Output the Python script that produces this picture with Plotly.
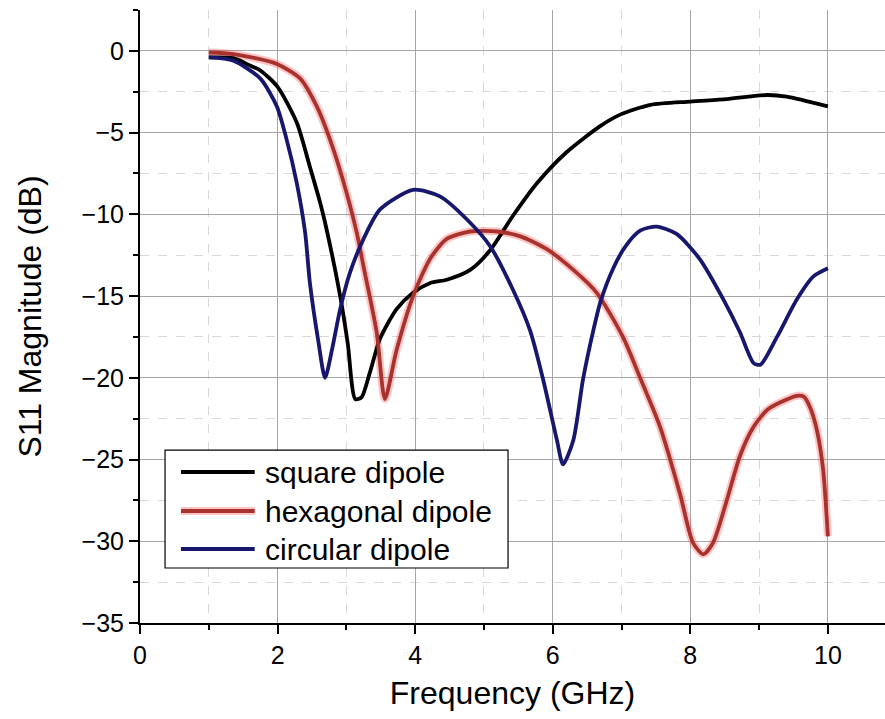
import plotly.graph_objects as go

# ---- data ----
sq_x = [1.0, 1.36, 1.6, 1.75, 2.0, 2.28, 2.47, 2.62, 2.69, 2.91, 3.02, 3.13, 3.22, 3.34, 3.49, 3.73,
        3.97, 4.22, 4.46, 4.8, 5.09, 5.42, 5.77, 6.2, 6.69, 6.98, 7.42, 8.0, 8.53, 9.12, 9.4, 10.0]
sq_y = [-0.4, -0.45, -0.9, -1.2, -2.2, -4.4, -7.1, -9.3, -10.5, -15.0, -17.9, -21.3, -21.2, -19.7, -17.6, -15.8,
        -14.8, -14.2, -14.0, -13.4, -12.2, -10.1, -8.1, -6.2, -4.6, -3.9, -3.3, -3.1, -2.95, -2.7, -2.8, -3.4]

hx_x = [1.0, 1.36, 1.99, 2.33, 2.57, 2.76, 2.95, 3.15, 3.25, 3.44, 3.56, 3.73, 3.97, 4.22, 4.46, 4.8,
        5.19, 5.53, 5.92, 6.3, 6.64, 7.02, 7.27, 7.56, 7.85, 8.04, 8.19, 8.33, 8.53, 8.72, 8.92, 9.12,
        9.31, 9.55, 9.65, 9.74, 9.84, 9.93, 10.0]
hx_y = [-0.1, -0.2, -0.8, -1.7, -3.4, -5.4, -7.9, -11.1, -13.2, -17.2, -21.3, -18.3, -15.0, -12.7, -11.5, -11.05,
        -11.05, -11.35, -12.15, -13.4, -14.8, -17.5, -20.0, -23.0, -27.1, -30.1, -30.8, -30.1, -27.5, -24.8, -23.0, -21.95,
        -21.5, -21.1, -21.15, -21.8, -23.2, -25.6, -29.7]

ci_x = [1.0, 1.36, 1.75, 1.99, 2.13, 2.28, 2.4, 2.47, 2.59, 2.69, 2.79, 2.91, 3.05, 3.25, 3.49, 3.97,
        4.36, 4.75, 5.09, 5.42, 5.67, 5.86, 6.06, 6.15, 6.3, 6.44, 6.59, 6.69, 6.88, 7.05, 7.27, 7.51,
        7.8, 8.14, 8.48, 8.72, 8.92, 9.02, 9.26, 9.55, 9.79, 10.0]
ci_y = [-0.4, -0.6, -1.7, -3.4, -5.4, -8.1, -11.1, -14.2, -17.7, -20.0, -18.3, -15.8, -13.6, -11.5, -9.7, -8.5,
        -8.9, -10.3, -11.95, -14.6, -17.1, -20.1, -23.8, -25.3, -23.8, -20.1, -17.1, -15.4, -13.3, -12.0, -11.0, -10.75,
        -11.2, -12.75, -15.2, -17.2, -19.1, -19.2, -17.5, -15.2, -13.8, -13.3]

names = ["square dipole", "hexagonal dipole", "circular dipole"]
colors = ["#000000", "#a8322d", "#17176e"]

x_ticks = [0, 2, 4, 6, 8, 10]
y_ticks = [0, -5, -10, -15, -20, -25, -30, -35]

FONT = "Arial, Liberation Sans, sans-serif"
GLOW = "rgba(255,90,90,0.35)"
SMOOTH = 0.7

fig = go.Figure()
# glow under the red curve
fig.add_trace(go.Scatter(x=hx_x, y=hx_y, mode="lines", showlegend=False, hoverinfo="skip",
                         line=dict(color=GLOW, width=8, shape="spline", smoothing=SMOOTH)))
for xs, ys, nm, c in zip([sq_x, hx_x, ci_x], [sq_y, hx_y, ci_y], names, colors):
    fig.add_trace(go.Scatter(x=xs, y=ys, mode="lines", name=nm, showlegend=False,
                             line=dict(color=c, width=3.8, shape="spline", smoothing=SMOOTH)))

# manual legend
bx0, bx1, by0, by1 = 0.0336, 0.494, 0.0897, 0.282
fig.add_shape(type="rect", xref="paper", yref="paper", x0=bx0, x1=bx1, y0=by0, y1=by1,
              line=dict(color="black", width=1.2), fillcolor="white", layer="above")
rows = [0.2463, 0.1827, 0.1207]
for nm, c, ry in zip(names, colors, rows):
    if c == colors[1]:
        fig.add_shape(type="line", xref="paper", yref="paper", x0=0.055, x1=0.154, y0=ry, y1=ry,
                      line=dict(color=GLOW, width=8), layer="above")
    fig.add_shape(type="line", xref="paper", yref="paper", x0=0.055, x1=0.154, y0=ry, y1=ry,
                  line=dict(color=c, width=4), layer="above")
    fig.add_annotation(xref="paper", yref="paper", x=0.165, y=ry, text=nm, showarrow=False,
                       xanchor="left", yanchor="middle", font=dict(family=FONT, size=30, color="black"))

axis_common = dict(
    showline=True, linecolor="black", linewidth=2, mirror=False,
    ticks="outside", ticklen=9, tickwidth=2, tickcolor="black",
    showgrid=True, gridcolor="#a6a6a6", gridwidth=1, zeroline=False,
    tickfont=dict(family=FONT, size=25, color="black"),
)
fig.update_xaxes(range=[0, 10.83], tickvals=x_ticks,
                 minor=dict(dtick=1, tick0=0, ticks="outside", ticklen=5, tickwidth=2, tickcolor="black",
                            showgrid=True, gridcolor="#d8d8d8", griddash="dash", gridwidth=1),
                 title=dict(text="Frequency (GHz)", font=dict(family=FONT, size=32, color="black"), standoff=14),
                 **axis_common)
fig.update_yaxes(range=[-35, 2.5], tickvals=y_ticks,
                 minor=dict(dtick=2.5, tick0=0, ticks="outside", ticklen=5, tickwidth=2, tickcolor="black",
                            showgrid=True, gridcolor="#d8d8d8", griddash="dash", gridwidth=1),
                 title=dict(text="S11 Magnitude (dB)", font=dict(family=FONT, size=32, color="black"), standoff=30),
                 **axis_common)

fig.update_layout(width=885, height=719, margin=dict(l=140, r=0, t=10, b=96),
                  plot_bgcolor="white", paper_bgcolor="white", showlegend=False)

fig.write_html("out.html")
